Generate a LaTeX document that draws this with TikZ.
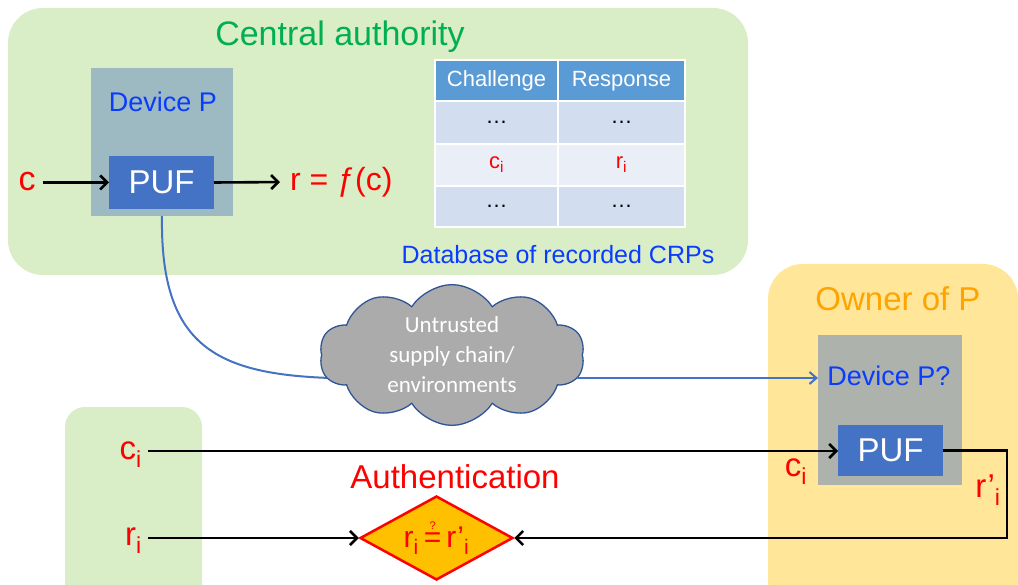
\documentclass[tikz,border=0pt]{standalone}
\usepackage{fontspec}
\setmainfont{Liberation Sans}
\newfontfamily\calibri{Carlito}
\usetikzlibrary{arrows.meta,shapes.geometric,shapes.symbols,calc}

\definecolor{bggreen}{HTML}{D9EDC6}
\definecolor{bgyellow}{HTML}{FFE699}
\definecolor{catext}{HTML}{00B050}
\definecolor{owntext}{HTML}{FFA300}
\definecolor{devbox}{HTML}{9DB9C2}
\definecolor{devqbox}{HTML}{AEB2AD}
\definecolor{devtext}{HTML}{0A3CFF}
\definecolor{pufblue}{HTML}{4472C4}
\definecolor{thead}{HTML}{5B9BD5}
\definecolor{trowA}{HTML}{D2DEEF}
\definecolor{trowB}{HTML}{EAEFF7}
\definecolor{cloudfill}{HTML}{ABABAB}
\definecolor{cloudline}{HTML}{2F5597}
\definecolor{diamfill}{HTML}{FFC000}
\definecolor{myred}{HTML}{FF0000}

\newcommand{\qeq}{\mbox{\ooalign{\hfil\raisebox{0.62em}{\fontsize{11}{11}\selectfont ?}\hfil\cr\,=\,\cr}}}

\tikzset{
  fs/.style={font=\fontsize{#1}{#1}\selectfont},
  rect/.style={inner sep=0pt, outer sep=0pt},
  bgbox/.style={rect, rounded corners=#1},
  cell/.style={rect, draw=white, line width=2pt, minimum height=42, fs=22},
  blk/.style={line width=2.6pt, black},
  blkarrow/.style={blk, -{Straight Barb[length=7pt,width=14pt]}},
  bluearrow/.style={line width=2pt, pufblue, -{Straight Barb[length=7pt,width=12pt]}},
  redtxt/.style={text=myred, inner sep=1pt},
}

\begin{document}
\begin{tikzpicture}[x=1pt,y=-1pt]
\useasboundingbox (0,0) rectangle (1018,585);
\clip (0,0) rectangle (1018,585);

% background panels
\node[bgbox=35pt, fill=bggreen, minimum width=740, minimum height=267] (ca) at (378,141.5) {};
\node[bgbox=20pt, fill=bggreen, minimum width=137, minimum height=200] (ver) at (133.5,507) {};
\node[bgbox=35pt, fill=bgyellow, minimum width=250, minimum height=350] (own) at (893,439) {};

\node[fs=34, text=catext] (catitle) at (340,37) {Central authority};
\node[fs=33, text=owntext] (owntitle) at (898,299) {Owner of P};

% device P (central authority)
\node[rect, fill=devbox, minimum width=142, minimum height=148] (devP) at (162,142) {};
\node[fs=27, text=devtext] (devPlbl) at (163,102) {Device P};
\node[rect, fill=pufblue, minimum width=105, minimum height=53, fs=33, text=white] (puf) at (161.5,182.5) {PUF};
\node[redtxt, fs=34, anchor=center] (c) at (27,182) {c};
\node[redtxt, fs=32, anchor=west] (r) at (289,182) {r = ƒ(c)};
\draw[blkarrow] (c.east |- puf.west) ++(6,0) -- (puf.west);
\draw[blkarrow, shorten >=9pt] (puf.east) -- (r.west);

% table
\node[cell, fill=thead, text=white, minimum width=123, minimum height=41] (h1) at (496.5,81) {Challenge};
\node[cell, fill=thead, text=white, minimum width=127, minimum height=41] (h2) at (621.5,81) {Response};
\node[cell, fill=trowA, minimum width=123, minimum height=43] (a1) at (496.5,122.5) {…};
\node[cell, fill=trowA, minimum width=127, minimum height=43] (a2) at (621.5,122.5) {…};
\node[cell, fill=trowB, minimum width=123, minimum height=42, text=myred] (b1) at (496.5,165) {c\textsubscript{i}};
\node[cell, fill=trowB, minimum width=127, minimum height=42, text=myred] (b2) at (621.5,165) {r\textsubscript{i}};
\node[cell, fill=trowA, minimum width=123, minimum height=41] (d1) at (496.5,206.5) {…};
\node[cell, fill=trowA, minimum width=127, minimum height=41] (d2) at (621.5,206.5) {…};
\node[fs=25, text=devtext] (dblbl) at (558,255) {Database of recorded CRPs};

% device P? (owner)
\node[rect, fill=devqbox, minimum width=144, minimum height=150] (devQ) at (890,410) {};
\node[fs=27, text=devtext] (devQlbl) at (889,376) {Device P?};
\node[rect, fill=pufblue, minimum width=105, minimum height=51, fs=33, text=white] (puf2) at (890.5,450.5) {PUF};
\node[redtxt, fs=33] (ci2) at (796,472) {c\textsubscript{i}};
\node[redtxt, fs=33] (rp) at (988,490) {r’\textsubscript{i}};

% supply chain curve and cloud
\draw[line width=2pt, pufblue] (devP.south) .. controls (160,345) and (215,374) .. (330,378);
\node[cloud, cloud puffs=10, cloud puff arc=115, aspect=2.1, draw=cloudline, line width=1.3pt, fill=cloudfill,
      minimum width=265, minimum height=132, inner sep=0pt, text=white,
      align=center, font=\calibri\fontsize{23}{30}\selectfont] (cloud) at (452,355)
      {Untrusted\\supply chain/\\environments};
\draw[bluearrow] ([yshift=-23pt]cloud.east) ++(-6,0) -- ([yshift=-23pt]cloud.east -| devQ.west);

% verifier
\node[redtxt, fs=33, anchor=east] (ci1) at (143,455) {c\textsubscript{i}};
\node[redtxt, fs=33, anchor=east] (ri1) at (143,541) {r\textsubscript{i}};

\node[fs=33, text=myred] (auth) at (455,477) {Authentication};
\node[diamond, shape aspect=2, fill=diamfill, draw=myred, line width=2.5pt, inner sep=0pt,
      minimum width=153, minimum height=84, text=myred, fs=30] (diam) at (436.5,538)
      {r\textsubscript{i}\qeq r’\textsubscript{i}};

\draw[blkarrow] (148,451) coordinate (cstart) -- (cstart -| puf2.west);
\draw[blkarrow] (148,538) coordinate (rstart) -- (diam.west);
\draw[blkarrow] (puf2.east) -- ++(64,0) coordinate (corner) |- (diam.east);
\end{tikzpicture}
\end{document}
